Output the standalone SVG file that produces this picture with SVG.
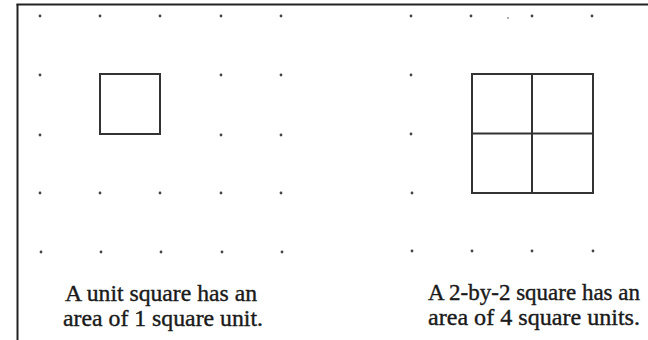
<svg xmlns="http://www.w3.org/2000/svg" width="648" height="340" viewBox="0 0 648 340">
<style>
.frame{stroke:#222;stroke-width:2;fill:none}
.dot{fill:#444}
.sq{stroke:#333;stroke-width:2;fill:none}
.cap{font-family:"Liberation Serif","Times New Roman",serif;font-size:24px;fill:#1a1a1a;text-anchor:start;stroke:#1a1a1a;stroke-width:0.4}
</style>
<rect width="648" height="340" fill="#fff"/>
<g id="frame">
<line class="frame" x1="16.5" y1="4.5" x2="648" y2="4.5"/>
<line class="frame" x1="17.5" y1="4" x2="17.5" y2="340"/>
</g>
<g id="left-dots">
<circle class="dot" cx="40" cy="16" r="1.4"/><circle class="dot" cx="100" cy="16" r="1.4"/><circle class="dot" cx="160" cy="16" r="1.4"/><circle class="dot" cx="221" cy="16" r="1.4"/><circle class="dot" cx="281" cy="16" r="1.4"/>
<circle class="dot" cx="40" cy="75" r="1.4"/><circle class="dot" cx="221" cy="75" r="1.4"/><circle class="dot" cx="281" cy="75" r="1.4"/>
<circle class="dot" cx="40" cy="135" r="1.4"/><circle class="dot" cx="221" cy="135" r="1.4"/><circle class="dot" cx="281" cy="135" r="1.4"/>
<circle class="dot" cx="40" cy="193" r="1.4"/><circle class="dot" cx="100" cy="193" r="1.4"/><circle class="dot" cx="160" cy="193" r="1.4"/><circle class="dot" cx="221" cy="193" r="1.4"/><circle class="dot" cx="281" cy="193" r="1.4"/>
<circle class="dot" cx="41" cy="252" r="1.4"/><circle class="dot" cx="101" cy="252" r="1.4"/><circle class="dot" cx="161" cy="252" r="1.4"/><circle class="dot" cx="222" cy="252" r="1.4"/><circle class="dot" cx="282" cy="252" r="1.4"/>
</g>
<g id="unit-square">
<rect class="sq" x="100" y="74" width="60" height="60"/>
</g>
<g id="right-dots">
<circle class="dot" cx="411" cy="16" r="1.4"/><circle class="dot" cx="471" cy="16" r="1.4"/><circle class="dot" cx="532" cy="16" r="1.4"/><circle class="dot" cx="592" cy="16" r="1.4"/>
<circle class="dot" cx="508" cy="18" r="0.8"/>
<circle class="dot" cx="411" cy="75" r="1.4"/>
<circle class="dot" cx="411" cy="134" r="1.4"/>
<circle class="dot" cx="412" cy="193" r="1.4"/>
<circle class="dot" cx="412" cy="251" r="1.4"/><circle class="dot" cx="472" cy="251" r="1.4"/><circle class="dot" cx="532" cy="251" r="1.4"/><circle class="dot" cx="593" cy="251" r="1.4"/>
</g>
<g id="two-by-two-square">
<rect class="sq" x="472" y="74" width="121" height="119"/>
<line class="sq" x1="532" y1="74" x2="532" y2="193"/>
<line class="sq" x1="472" y1="133.5" x2="593" y2="133.5"/>
</g>
<g id="left-caption">
<text class="cap" x="65" y="301" textLength="192" lengthAdjust="spacingAndGlyphs">A unit square has an</text>
<text class="cap" x="63" y="326" textLength="200" lengthAdjust="spacingAndGlyphs">area of 1 square unit.</text>
</g>
<g id="right-caption">
<text class="cap" x="428" y="300" textLength="212" lengthAdjust="spacingAndGlyphs">A 2-by-2 square has an</text>
<text class="cap" x="428" y="325" textLength="212" lengthAdjust="spacingAndGlyphs">area of 4 square units.</text>
</g>
</svg>
